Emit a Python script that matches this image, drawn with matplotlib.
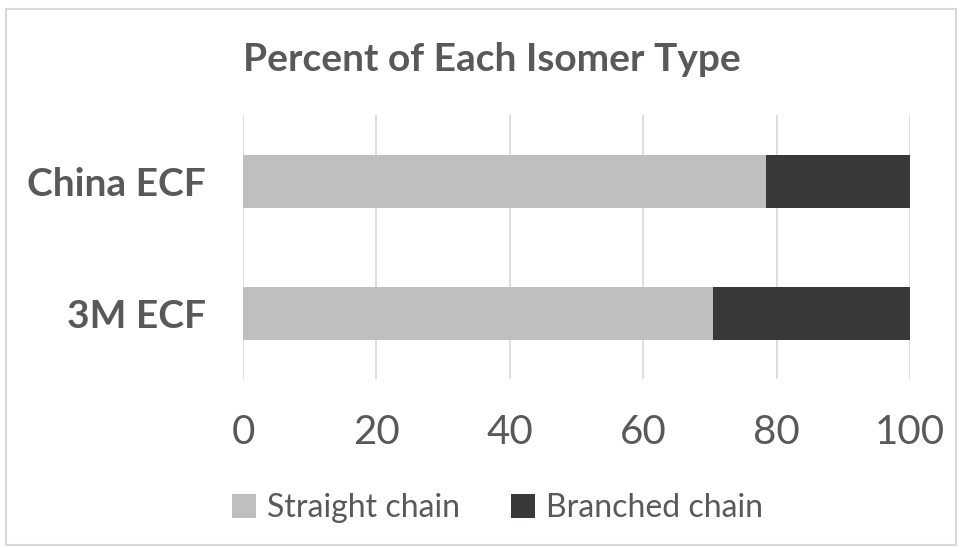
import matplotlib
matplotlib.use("Agg")
import matplotlib.pyplot as plt
from matplotlib import font_manager
from matplotlib.patches import Rectangle

# Data
categories = ["3M ECF", "China ECF"]
straight = [70.4, 78.4]
branched = [29.6, 21.6]
xticks = [0, 20, 40, 60, 80, 100]

installed = {f.name for f in font_manager.fontManager.ttflist}
font = "Lato" if "Lato" in installed else "DejaVu Sans"
plt.rcParams["font.family"] = [font, "DejaVu Sans"]

text_grey = "#595959"
light = "#BFBFBF"
dark = "#3A3838"
grid = "#D9D9D9"

fig = plt.figure(figsize=(9.61, 5.48), dpi=100, facecolor="white")
ax = fig.add_axes([0.2529, 0.308, 0.694, 0.482])

ypos = list(range(len(categories)))
ax.barh(ypos, straight, height=0.4, color=light, label="Straight chain", zorder=3)
ax.barh(ypos, branched, left=straight, height=0.4, color=dark,
        label="Branched chain", zorder=3)

ax.set_xlim(0, 100)
ax.set_ylim(-0.5, 1.5)
ax.set_xticks(xticks)
ax.set_yticks(ypos)
ax.set_yticklabels(categories, fontsize=28, fontweight="bold", color=text_grey)
ax.tick_params(axis="x", length=0, pad=25, labelsize=29, labelcolor=text_grey)
ax.tick_params(axis="y", length=0, pad=27)
ax.xaxis.grid(True, color=grid, linewidth=1.2, zorder=0)
ax.set_axisbelow(True)
for s in ax.spines.values():
    s.set_visible(False)

fig.text(0.512, 0.892, "Percent of Each Isomer Type", ha="center", va="center",
         fontsize=28, fontweight="bold", color=text_grey)

handles, labels = ax.get_legend_handles_labels()
fig.legend(handles, labels, loc="center", bbox_to_anchor=(0.518, 0.073), ncol=2,
           frameon=False, fontsize=23, labelcolor=text_grey, handlelength=0.75,
           handleheight=0.75, handletextpad=0.35, columnspacing=1.6)

fig.patches.append(Rectangle((6 / 961, 3 / 548), 950 / 961, 536 / 548,
                             transform=fig.transFigure, fill=False,
                             edgecolor=grid, linewidth=1.5))

fig.savefig("out.png", dpi=100, facecolor="white")
